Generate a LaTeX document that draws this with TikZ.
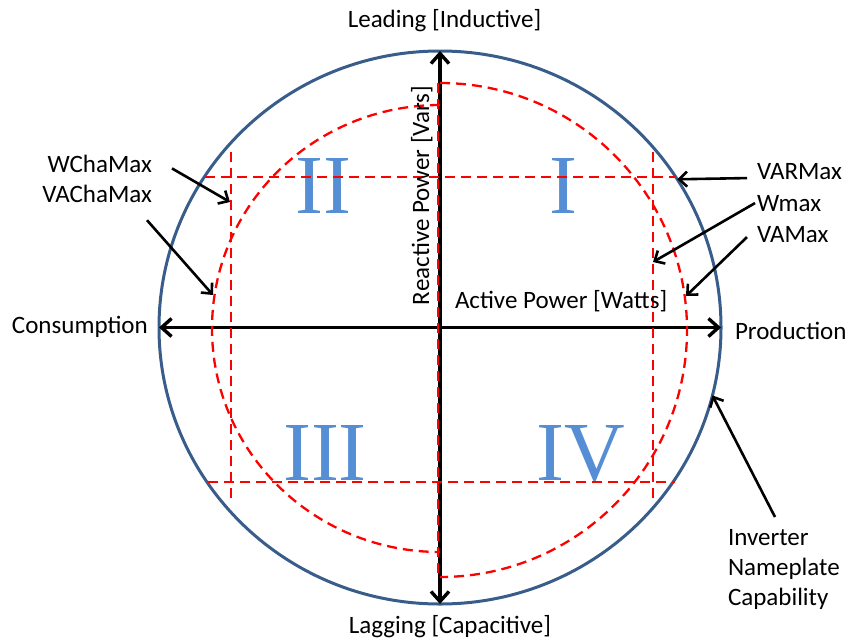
\documentclass[tikz,border=0pt]{standalone}
\usepackage{fontspec}
\setmainfont{Carlito}
\newfontfamily\numeralfont{Liberation Serif}
\usetikzlibrary{arrows.meta,shapes.geometric}
\definecolor{circblue}{RGB}{56,93,138}
\definecolor{numblue}{RGB}{85,142,213}
\definecolor{dashred}{RGB}{255,0,0}
\begin{document}
\begin{tikzpicture}[x=1pt,y=-1pt,
  lbl/.style={font=\fontsize{25}{30}\selectfont, inner sep=0pt, outer sep=0pt},
  numeral/.style={font=\numeralfont\fontsize{84}{84}\selectfont, text=numblue, inner sep=0pt, anchor=base},
  axisline/.style={line width=3.4pt, {Straight Barb[length=10pt,width=18pt,line width=3.4pt]}-{Straight Barb[length=10pt,width=18pt,line width=3.4pt]}},
  callout/.style={line width=2.6pt, -{Straight Barb[length=8pt,width=15pt,line width=2.6pt]}},
  reddash/.style={draw=dashred, line width=2.3pt, dash pattern=on 10pt off 6pt},
  ]
\useasboundingbox (0,0) rectangle (848,641);

% quadrant numerals
\node[numeral] (q1) at (563,213) {I};
\node[numeral] (q2) at (323,213) {II};
\node[numeral] (q3) at (325,480) {III};
\node[numeral] (q4) at (581,480) {IV};

% capability circle
\node[draw=circblue, line width=3pt, ellipse, minimum width=562pt, minimum height=553pt, inner sep=0pt, outer sep=0pt] (cap) at (440,327.5) {};

% axes
\draw[axisline] (cap.west) -- (cap.east);
\draw[axisline] (cap.north) -- (cap.south);

% red dashed limits
\draw[reddash] (440,105) arc[start angle=-90, end angle=-270, x radius=228, y radius=223.5];
\draw[reddash] (440,83) arc[start angle=-90, end angle=90, radius=247];
\draw[reddash] (438,83) -- (438,577);
\draw[reddash] (205,177) -- (675,177);
\draw[reddash] (208,482) -- (675,482);
\draw[reddash] (231,152) -- (231,500);
\draw[reddash] (653,152) -- (653,500);

% labels
\node[lbl, anchor=base] (lead) at (444.5,27) {Leading [Inductive]};
\node[lbl, anchor=base] (lag) at (450,633) {Lagging [Capacitive]};
\node[lbl, anchor=base west] (cons) at (12,333) {Consumption};
\node[lbl, anchor=base west] (prod) at (735,339) {Production};
\node[lbl, anchor=base west] (act) at (455,308) {Active Power [Watts]};
\node[lbl, anchor=base west, rotate=90] (react) at (429,305) {Reactive Power [Vars]};
\node[lbl, anchor=base east] (wcha) at (152,172) {WChaMax};
\node[lbl, anchor=base east] (vacha) at (152,202) {VAChaMax};
\node[lbl, anchor=base west] (varmax) at (757,179) {VARMax};
\node[lbl, anchor=base west] (wmax) at (757,211) {Wmax};
\node[lbl, anchor=base west] (vamax) at (757,242) {VAMax};
\node[lbl, anchor=north west, align=left] (inv) at (728,529) {Inverter\\Nameplate\\Capability};

% callout targets
\coordinate (tWcha) at (230,202);
\coordinate (tVAcha) at (213,295);
\coordinate (tWmax) at (653,262);
\coordinate (tVAmax) at (686,296);

% callouts
\draw[callout] ([shift={(20,5)}]wcha.east) -- (tWcha);
\draw[callout] ([shift={(-5,18)}]vacha.south east) -- (tVAcha);
\draw[callout] ([shift={(-10,7)}]varmax.west) -- (cap.32);
\draw[callout] ([shift={(-2,0)}]wmax.west) -- (tWmax);
\draw[callout] ([shift={(-10,3)}]vamax.west) -- (tVAmax);
\draw[callout] ([shift={(47,-12)}]inv.north west) -- (cap.-14);
\end{tikzpicture}
\end{document}
